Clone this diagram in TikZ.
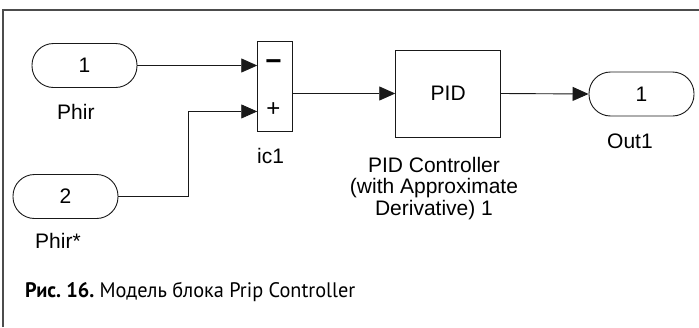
\documentclass[tikz,border=0pt]{standalone}
\usepackage{fontspec}
\usepackage{graphicx}
\setmainfont{Liberation Sans}
\newfontfamily\capfont{PT Sans}
\usetikzlibrary{arrows.meta}
\tikzset{
  port/.style={draw=black!90, line width=0.9pt, rounded corners=21.5pt, minimum width=105pt, minimum height=44pt, inner sep=0pt, font=\fontsize{21}{21}\selectfont},
  blk/.style={draw=black!90, line width=0.9pt, inner sep=0pt},
  lbl/.style={inner sep=0pt, font=\fontsize{21}{21}\selectfont},
  wire/.style={draw=black!90, line width=0.9pt},
  arr/.style={wire, -{Triangle[length=16pt,width=14pt]}}
}
\begin{document}
\begin{tikzpicture}[x=1pt,y=-1pt]
\useasboundingbox (0,0) rectangle (699,327);
% frame
\draw[line width=1.5pt, color=black!70] (3,327) -- (3,10) -- (699,10);
% nodes
\node[port] (in1) at (84.5,65.5) {1};
\node[port] (in2) at (65.5,196.5) {2};
\node[blk, minimum width=35pt, minimum height=90pt] (sum) at (275.2,86.7) {};
\node[blk, minimum width=105pt, minimum height=87pt, font=\fontsize{21}{21}\selectfont] (pid) at (448.2,93.5) {PID};
\node[port] (out) at (641.5,94) {1};
% sum signs
\node[inner sep=0pt, font=\fontsize{28}{28}\selectfont\bfseries] (minus) at (273.5,65) {−};
\node[inner sep=0pt, font=\fontsize{24}{24}\selectfont] (plus) at (273.5,110) {+};
% labels
\node[lbl, anchor=base west] (l1) at (57,119.3) {Phir};
\node[lbl, anchor=base west] (l2) at (35,248) {Phir*};
\node[lbl, anchor=base west] (l3) at (257,163.5) {ic1};
\node[lbl, anchor=base west] (l4) at (607,148.5) {Out1};
\node[lbl, anchor=base] (c1) at (434,172) {PID Controller};
\node[lbl, anchor=base] (c2) at (434,193.5) {(with Approximate};
\node[lbl, anchor=base] (c3) at (434,215) {Derivative) 1};
% caption
\node[inner sep=0pt, anchor=base west] (cap) at (25,297)
  {\resizebox{330pt}{\height}{\capfont\fontsize{21}{21}\selectfont\textbf{Рис.~16.}\ Модель блока Prip Controller}};
% coordinates
\coordinate (s1) at (sum.west |- in1.east);
\coordinate (s2) at ([yshift=20.7pt]sum.south west);
\coordinate (bend) at (188,0);
% connectors
\draw[arr] (in1.east) -- (s1);
\draw[arr] (in2.east) -| (bend |- s2) -- (s2);
\draw[arr] (sum.east |- pid.west) -- (pid.west);
\draw[arr] (pid.east) -- (out.west);
\end{tikzpicture}
\end{document}
